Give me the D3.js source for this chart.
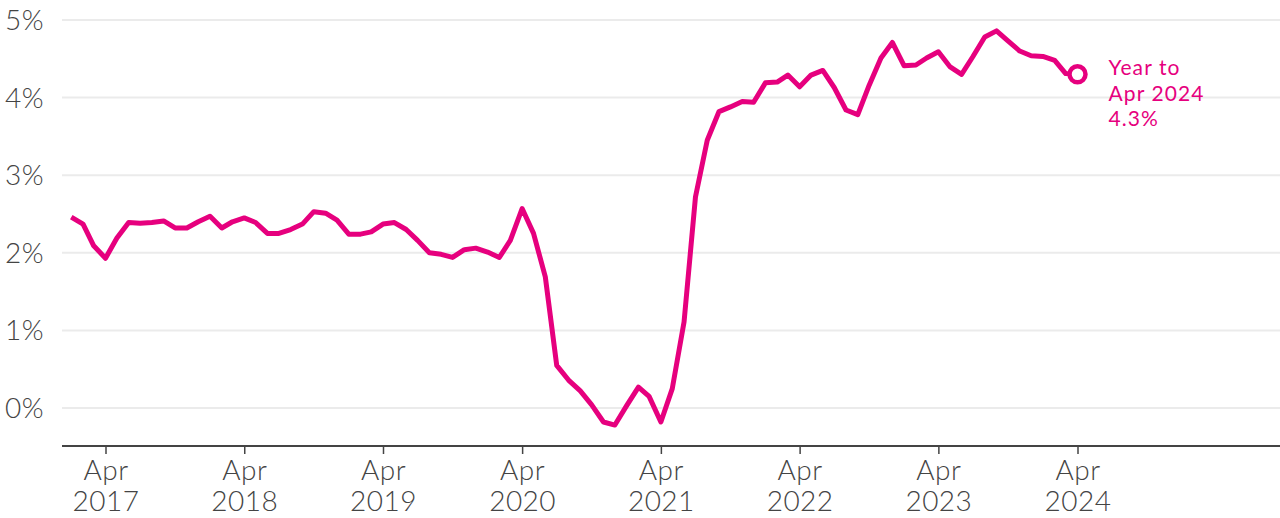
<!DOCTYPE html>
<html>
<head>
<meta charset="utf-8">
<script src="https://cdn.jsdelivr.net/npm/d3@7"></script>
<style>
  html, body { margin: 0; padding: 0; background: #ffffff; }
  svg { display: block; }
  text { font-family: Lato, "Open Sans", sans-serif; }
</style>
</head>
<body>
<svg id="chart" width="1280" height="518"></svg>
<script>
// ---- Data (monthly, Jan 2017 .. Apr 2024) ----
const startYear = 2017;
const startMonth = 0; // January
const values = [
  // 2017
  2.46, 2.37, 2.09, 1.93, 2.19, 2.39, 2.38, 2.39, 2.41, 2.32, 2.32, 2.40,
  // 2018
  2.47, 2.32, 2.40, 2.45, 2.39, 2.25, 2.25, 2.30, 2.37, 2.53, 2.51, 2.42,
  // 2019
  2.24, 2.24, 2.27, 2.37, 2.39, 2.30, 2.16, 2.00, 1.98, 1.94, 2.04, 2.06,
  // 2020
  2.01, 1.94, 2.16, 2.57, 2.25, 1.69, 0.55, 0.36, 0.22, 0.04, -0.18, -0.22,
  // 2021
  0.03, 0.27, 0.15, -0.18, 0.25, 1.11, 2.72, 3.45, 3.82, 3.88, 3.95, 3.94,
  // 2022
  4.19, 4.20, 4.29, 4.14, 4.29, 4.35, 4.13, 3.84, 3.78, 4.16, 4.51, 4.71,
  // 2023
  4.41, 4.42, 4.51, 4.59, 4.40, 4.30, 4.53, 4.78, 4.86, 4.73, 4.60, 4.54,
  // 2024
  4.53, 4.48, 4.31, 4.30
];
const yTicks = [0, 1, 2, 3, 4, 5];
const xTickYears = [2017, 2018, 2019, 2020, 2021, 2022, 2023, 2024];
const xTickMonth = "Apr";
const annotationLines = ["Year to", "Apr 2024", "4.3%"];

const data = values.map((v, i) => ({
  date: new Date(startYear, startMonth + i, 1),
  value: v
}));

// ---- Layout ----
const svg = d3.select("#chart");
const left = 62, right = 1280;
const pink = "#e6007e";
const grey = "#444444";

const x = d3.scaleTime()
  .domain([new Date(2017, 3, 1), new Date(2024, 3, 1)])
  .range([105.5, 1077.5]);

const y = d3.scaleLinear()
  .domain([0, 5])
  .range([408, 20]);

// Gridlines
svg.append("g")
  .selectAll("line")
  .data(yTicks)
  .join("line")
  .attr("x1", left)
  .attr("x2", right)
  .attr("y1", d => y(d))
  .attr("y2", d => y(d))
  .attr("stroke", "#ebebeb")
  .attr("stroke-width", 2);

// Y labels
svg.append("g")
  .selectAll("text")
  .data(yTicks)
  .join("text")
  .attr("x", 44)
  .attr("y", d => y(d))
  .attr("dy", "0.36em")
  .attr("text-anchor", "end")
  .attr("fill", grey)
  .attr("font-size", 28)
  .attr("font-weight", 300)
  .attr("letter-spacing", 0.5)
  .text(d => d + "%");

// X axis baseline
const axisY = 446;
svg.append("line")
  .attr("x1", left).attr("x2", right)
  .attr("y1", axisY).attr("y2", axisY)
  .attr("stroke", grey)
  .attr("stroke-width", 2);

// X axis ticks
const xAxis = d3.axisBottom(x)
  .tickValues(xTickYears.map(yr => new Date(yr, 3, 1)))
  .tickSize(8)
  .tickSizeOuter(0)
  .tickFormat(d => d.getFullYear());

const gx = svg.append("g")
  .attr("transform", `translate(0,${axisY})`)
  .call(xAxis);
gx.select(".domain").remove();
gx.selectAll(".tick line").attr("stroke", grey).attr("stroke-width", 1.5);
gx.selectAll(".tick text").each(function(d) {
  const t = d3.select(this);
  t.text(null)
    .attr("y", 0)
    .attr("dy", null)
    .attr("fill", grey)
    .attr("font-size", 28)
    .attr("font-weight", 300)
    .attr("letter-spacing", 0.5)
    .attr("font-family", "Lato, 'Open Sans', sans-serif");
  t.append("tspan").attr("x", 0).attr("y", 34).text(xTickMonth);
  t.append("tspan").attr("x", 0).attr("y", 65).text(d.getFullYear());
});

// Line
const line = d3.line()
  .x(d => x(d.date))
  .y(d => y(d.value));

svg.append("path")
  .datum(data)
  .attr("d", line)
  .attr("fill", "none")
  .attr("stroke", pink)
  .attr("stroke-width", 5)
  .attr("stroke-linejoin", "round")
  .attr("stroke-linecap", "butt");

// End marker
const last = data[data.length - 1];
svg.append("circle")
  .attr("cx", x(last.date))
  .attr("cy", y(last.value))
  .attr("r", 8)
  .attr("fill", "#ffffff")
  .attr("stroke", pink)
  .attr("stroke-width", 4.5);

// Annotation
const ann = svg.append("text")
  .attr("fill", pink)
  .attr("font-size", 21)
  .attr("font-weight", 400)
  .attr("letter-spacing", 1.1);
annotationLines.forEach((s, i) => {
  ann.append("tspan")
    .attr("x", x(last.date) + 31)
    .attr("y", 75 + i * 25.5)
    .text(s);
});
</script>
</body>
</html>
